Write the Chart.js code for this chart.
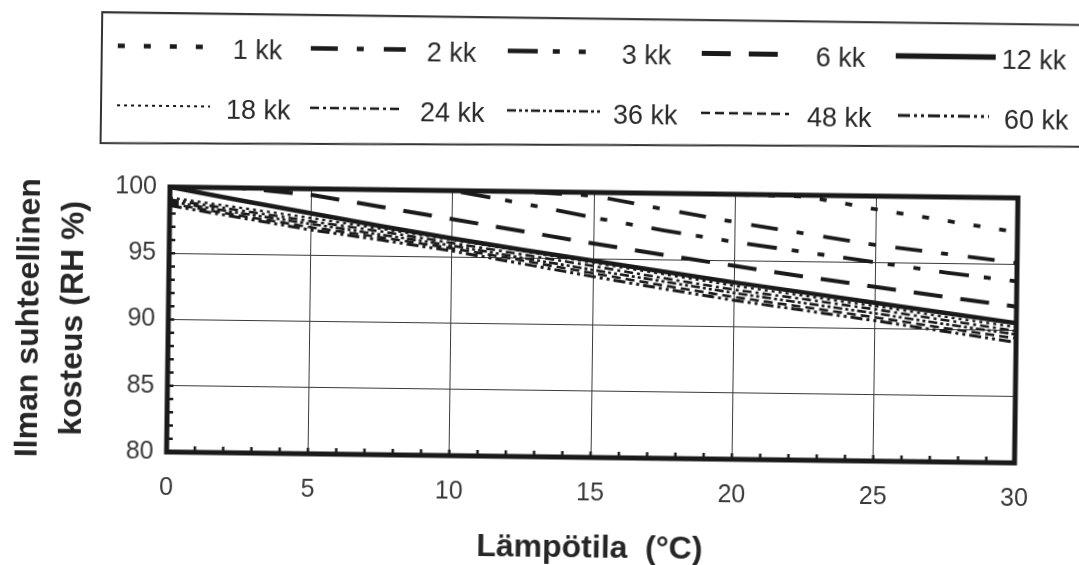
<!DOCTYPE html>
<html>
<head>
<meta charset="utf-8">
<script src="https://cdn.jsdelivr.net/npm/chart.js@4/dist/chart.umd.min.js"></script>
<style>
html,body{margin:0;padding:0;background:#fff;overflow:hidden;}
#wrap{position:absolute;left:0;top:0;width:1079px;height:565px;transform:rotate(0.74deg);transform-origin:170px 187px;background:#fff;}
</style>
</head>
<body>
<div id="wrap"><canvas id="c"></canvas></div>
<script>
// ---- data ----
const temperatures = [0, 2.5, 5, 7.5, 10, 12.5, 15, 17.5, 20, 22.5, 25, 27.5, 30];
const periods = ['1 kk', '2 kk', '3 kk', '6 kk', '12 kk', '18 kk', '24 kk', '36 kk', '48 kk', '60 kk'];
const rh1kk  = [100, 100, 100, 100, 100, 100, 100, 100, 100, 99.9, 99.0, 98.2, 97.4];
const rh2kk  = [100, 100, 100, 100, 100, 100, 99.75, 98.8, 97.9, 97.1, 96.3, 95.7, 95.1];
const rh3kk  = [100, 100, 100, 100, 100, 99.1, 98.1, 97.2, 96.4, 95.7, 95.0, 94.3, 93.7];
const rh6kk  = [100, 100, 99.55, 98.7, 97.85, 97.0, 96.15, 95.35, 94.6, 93.85, 93.15, 92.45, 91.8];
const rh12kk = [100, 99.05, 98.15, 97.25, 96.4, 95.6, 94.85, 94.1, 93.35, 92.65, 91.95, 91.25, 90.55];
const rh18kk = [99.2, 98.5, 97.8, 97.05, 96.3, 95.5, 94.7, 93.9, 93.1, 92.4, 91.7, 90.95, 90.25];
const rh24kk = [99.05, 98.3, 97.55, 96.85, 96.05, 95.25, 94.45, 93.6, 92.8, 92.15, 91.45, 90.7, 89.95];
const rh36kk = [98.9, 98.1, 97.35, 96.6, 95.85, 95.0, 94.15, 93.35, 92.55, 91.85, 91.15, 90.4, 89.7];
const rh48kk = [98.75, 97.9, 97.1, 96.4, 95.65, 94.8, 93.9, 93.05, 92.25, 91.55, 90.85, 90.1, 89.4];
const rh60kk = [98.6, 97.75, 96.9, 96.2, 95.45, 94.55, 93.65, 92.8, 92.0, 91.3, 90.6, 89.85, 89.1];
const seriesValues = [rh1kk, rh2kk, rh3kk, rh6kk, rh12kk, rh18kk, rh24kk, rh36kk, rh48kk, rh60kk];
const xTitle = 'Lämpötila  (°C)';
const yTitle = ['Ilman suhteellinen', 'kosteus (RH %)'];

// ---- styles ----
const FONT = "'Liberation Sans', Arial, Helvetica, sans-serif";
const INK = '#1a1a1a';
const lineStyles = [
  {w: 3.8, dash: [7, 19]},
  {w: 3.8, dash: [27, 19, 7, 20]},
  {w: 3.8, dash: [30, 15, 7, 19, 7, 19]},
  {w: 4.0, dash: [29, 18]},
  {w: 4.5, dash: []},
  {w: 2.4, dash: [3, 4]},
  {w: 2.6, dash: [9, 4, 3, 4]},
  {w: 2.6, dash: [9, 3, 3, 3, 3, 3]},
  {w: 2.6, dash: [9, 5]},
  {w: 3.0, dash: [12, 4, 3, 4, 3, 4]}
];
// legend slot layout: sample start/end, text x, row
const legendSlots = [
  {x0: 116, x1: 203, tx: 231, row: 0}, {x0: 309, x1: 404, tx: 425, row: 0},
  {x0: 506, x1: 590, tx: 620, row: 0}, {x0: 700, x1: 781, tx: 814, row: 0},
  {x0: 894, x1: 994, tx: 1000, row: 0},
  {x0: 116, x1: 209, tx: 225, row: 1}, {x0: 309, x1: 400, tx: 419, row: 1},
  {x0: 506, x1: 600, tx: 612, row: 1}, {x0: 700, x1: 788, tx: 806, row: 1},
  {x0: 897, x1: 988, tx: 1003, row: 1}
];
const rowSampleY = [46.5, 106];
const rowTextY = [51, 111];

const framePlugin = {
  id: 'frame',
  beforeDatasetsDraw(chart) {
    const {ctx, chartArea: a, scales: {x, y}} = chart;
    ctx.save();
    ctx.strokeStyle = INK;
    ctx.lineWidth = 2.5;
    for (let v = 81; v < 100; v++) {
      const py = y.getPixelForValue(v);
      ctx.beginPath(); ctx.moveTo(a.left, py); ctx.lineTo(a.left + 6, py); ctx.stroke();
    }
    for (let t = 1; t < 30; t++) {
      const px = x.getPixelForValue(t);
      ctx.beginPath(); ctx.moveTo(px, a.bottom); ctx.lineTo(px, a.bottom - 6); ctx.stroke();
    }
    ctx.lineWidth = 5;
    ctx.strokeRect(a.left, a.top, a.right - a.left, a.bottom - a.top);
    ctx.restore();
  }
};

const legendPlugin = {
  id: 'customLegend',
  afterDraw(chart) {
    const ctx = chart.ctx;
    ctx.save();
    ctx.strokeStyle = '#333';
    ctx.lineWidth = 2;
    ctx.beginPath();
    ctx.moveTo(1085, 13.2); ctx.lineTo(100, 13); ctx.lineTo(100, 144); ctx.lineTo(1085, 135);
    ctx.stroke();
    chart.data.datasets.forEach((ds, i) => {
      const s = legendSlots[i];
      const yy = rowSampleY[s.row];
      ctx.strokeStyle = ds.borderColor;
      ctx.lineWidth = ds.borderWidth + (s.row === 0 ? 0.8 : -0.2);
      ctx.setLineDash(ds.borderDash);
      ctx.lineCap = 'butt';
      ctx.beginPath(); ctx.moveTo(s.x0, yy); ctx.lineTo(s.x1, yy); ctx.stroke();
      ctx.setLineDash([]);
      ctx.fillStyle = '#2a2a2a';
      ctx.font = '27px ' + FONT;
      ctx.textBaseline = 'middle';
      ctx.textAlign = 'left';
      ctx.fillText(ds.label, s.tx, rowTextY[s.row]);
    });
    ctx.restore();
  }
};

new Chart(document.getElementById('c'), {
  type: 'line',
  data: {
    datasets: periods.map((p, i) => ({
      label: p,
      data: temperatures.map((t, j) => ({x: t, y: seriesValues[i][j]})),
      borderColor: INK,
      borderWidth: lineStyles[i].w,
      borderDash: lineStyles[i].dash,
      borderCapStyle: 'butt',
      pointRadius: 0,
      fill: false,
      tension: 0
    }))
  },
  options: {
    responsive: true,
    maintainAspectRatio: false,
    animation: false,
    events: [],
    layout: {padding: {left: 0, top: 187, right: 61, bottom: 3}},
    plugins: {legend: {display: false}, tooltip: {enabled: false}},
    scales: {
      x: {
        type: 'linear', min: 0, max: 30,
        ticks: {stepSize: 5, padding: 21, color: '#3a3a3a', font: {family: FONT, size: 25}},
        grid: {color: '#3a3a3a', lineWidth: 1, drawTicks: false},
        border: {display: false},
        title: {display: true, text: xTitle, color: '#262626', padding: 0,
                font: {family: FONT, size: 32, weight: 'bold', lineHeight: 1.2}},
        afterFit(s) { s.height = 110; }
      },
      y: {
        min: 80, max: 100,
        ticks: {stepSize: 5, padding: 13, color: '#3a3a3a', font: {family: FONT, size: 25}},
        grid: {color: '#3a3a3a', lineWidth: 1, drawTicks: false},
        border: {display: false},
        title: {display: true, text: yTitle, color: '#262626', padding: {top: 9, bottom: 0},
                font: {family: FONT, size: 32, weight: 'bold', lineHeight: 1.375}},
        afterFit(s) { s.width = 170; }
      }
    }
  },
  plugins: [framePlugin, legendPlugin]
});
</script>
</body>
</html>
